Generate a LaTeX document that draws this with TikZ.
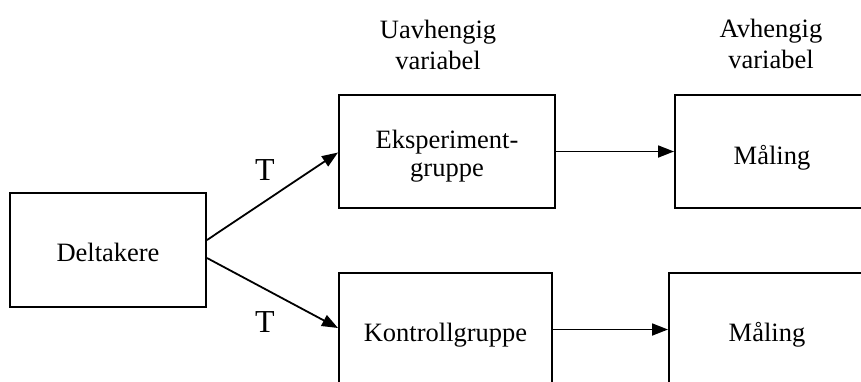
\documentclass[tikz,border=0pt]{standalone}
\usepackage{fontspec}
\setmainfont{Liberation Serif}
\usetikzlibrary{arrows.meta}
\begin{document}
\begin{tikzpicture}[x=1pt,y=-1pt,
  box/.style={draw=black,line width=2pt,rectangle,inner sep=0pt,
    font=\fontsize{26.5}{28}\selectfont,text height=23pt,text depth=0pt},
  lbl/.style={align=center,font=\fontsize{26.5}{31}\selectfont,inner sep=0pt},
  tl/.style={font=\fontsize{32}{32}\selectfont,inner sep=0pt},
  arr/.style={line width=1.8pt,-{Triangle[length=16pt,width=12pt]}}]
\clip (0,0) rectangle (861,381);
\fill[white] (0,0) rectangle (861,381);
\node[box,minimum width=196pt,minimum height=114pt] (delt) at (108,250) {Deltakere};
\node[box,minimum width=216pt,minimum height=113pt,text height=10pt,text depth=17pt] (eks) at (447,151.5)
  {\begin{tabular}[t]{@{}c@{}}Eksperiment-\\gruppe\end{tabular}};
\node[box,minimum width=213pt,minimum height=113pt] (kon) at (445.5,329.5) {Kontrollgruppe};
\node[box,minimum width=194pt,minimum height=113pt,text height=25pt] (mal1) at (772,151.5) {Måling};
\node[box,minimum width=196pt,minimum height=113pt] (mal2) at (767,329.5) {Måling};
\node[lbl] (uav) at (438,45) {Uavhengig\\variabel};
\node[lbl] (avh) at (771,44) {Avhengig\\variabel};
\node[tl] (t1) at (265,170) {T};
\node[tl] (t2) at (265,322) {T};
\draw[arr] ([yshift=10pt]delt.east) -- ([yshift=-1pt]eks.west);
\draw[arr] ([yshift=-8pt]delt.east) -- ([yshift=1.5pt]kon.west);
\draw[arr] (eks.east) -- (mal1.west);
\draw[arr] (kon.east) -- (mal2.west);
\end{tikzpicture}
\end{document}
